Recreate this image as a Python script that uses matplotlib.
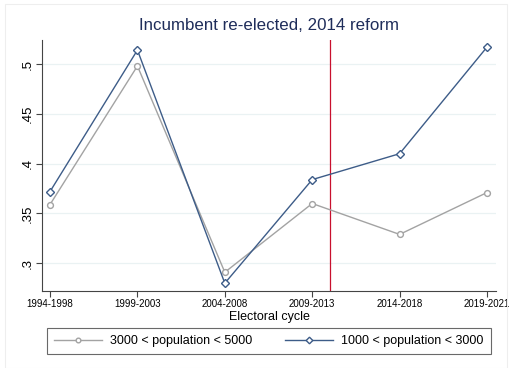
import matplotlib
matplotlib.use("Agg")
import matplotlib.pyplot as plt
from matplotlib.patches import Rectangle

plt.rcParams['font.family'] = ['Liberation Sans', 'DejaVu Sans']

cycles = ["1994-1998", "1999-2003", "2004-2008", "2009-2013", "2014-2018", "2019-2021"]
pop_3000_5000 = [0.359, 0.498, 0.291, 0.360, 0.329, 0.371]
pop_1000_3000 = [0.372, 0.514, 0.280, 0.384, 0.410, 0.517]
reform_pos = 3.2
yticks = [0.3, 0.35, 0.4, 0.45, 0.5]
ytick_labels = [".3", ".35", ".4", ".45", ".5"]

gray = "#a3a3a3"
blue = "#3d5c88"
grid = "#eaf2f3"

fig = plt.figure(figsize=(5.10, 3.68), dpi=100)
fig.patch.set_facecolor("white")
fig.add_artist(Rectangle((5/510, 0), 502/510, 1 - 4/368, transform=fig.transFigure,
                         fill=False, edgecolor="#eeeeee", linewidth=0.8))

ax = fig.add_axes([42/510, 1 - 291/368, 454/510, 251/368])
x = list(range(len(cycles)))

for yv in yticks:
    ax.axhline(yv, color=grid, linewidth=0.9, zorder=0)

ax.axvline(reform_pos, color="#c8102e", linewidth=0.9, zorder=1)

l1, = ax.plot(x, pop_3000_5000, color=gray, linewidth=1.0, marker="o", markersize=4.2,
              markerfacecolor="white", markeredgecolor=gray, markeredgewidth=1.0, zorder=3,
              label="3000 < population < 5000")
l2, = ax.plot(x, pop_1000_3000, color=blue, linewidth=1.0, marker="D", markersize=4.2,
              markerfacecolor="white", markeredgecolor=blue, markeredgewidth=1.0, zorder=4,
              label="1000 < population < 3000")

ax.set_xlim(-0.092, 5.103)
ax.set_ylim(0.2722, 0.5241)
ax.set_xticks(x)
ax.set_xticklabels(cycles, fontsize=7)
ax.set_yticks(yticks)
ax.set_yticklabels(ytick_labels, fontsize=9.5, rotation=90, va="center")
ax.tick_params(axis="both", length=4, width=0.8, color="#444444", pad=2)

for s in ["top", "right"]:
    ax.spines[s].set_visible(False)
for s in ["left", "bottom"]:
    ax.spines[s].set_color("#444444")
    ax.spines[s].set_linewidth(0.8)

ax.set_xlabel("Electoral cycle", fontsize=9, labelpad=1)
ax.set_title("Incumbent re-elected, 2014 reform", fontsize=12.2, color="#1f2d5a", pad=7)

leg = fig.legend(handles=[l1, l2], loc="center", bbox_to_anchor=(269/510, 1 - 341/368),
                 ncol=2, fontsize=9, frameon=True, fancybox=False, edgecolor="#444444",
                 handlelength=3.8, columnspacing=2.6, borderpad=0.55, handletextpad=0.7,
                 borderaxespad=0.0, markerscale=0.8)
leg.get_frame().set_linewidth(0.8)

fig.savefig("out.png", dpi=100)
